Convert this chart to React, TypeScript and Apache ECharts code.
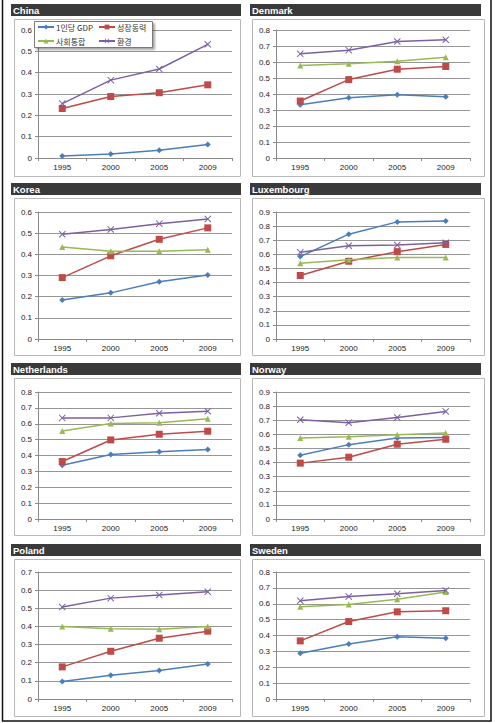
import React, { useEffect, useRef } from 'react';
import * as echarts from 'echarts';

const years = ['1995', '2000', '2005', '2009'];
const seriesNames = ['1인당 GDP', '성장동력', '사회통합', '환경'];
const countries = ['China', 'Denmark', 'Korea', 'Luxembourg', 'Netherlands', 'Norway', 'Poland', 'Sweden'];
const yMax = [0.6, 0.8, 0.6, 0.9, 0.8, 0.9, 0.7, 0.8];

// values per country, in the order of `countries`
const gdpValues = [
  [0.009, 0.019, 0.036, 0.063],
  [0.333, 0.377, 0.396, 0.383],
  [0.184, 0.218, 0.27, 0.302],
  [0.584, 0.743, 0.83, 0.837],
  [0.339, 0.406, 0.423, 0.438],
  [0.452, 0.527, 0.574, 0.577],
  [0.096, 0.131, 0.157, 0.193],
  [0.288, 0.347, 0.392, 0.383],
];
const growthValues = [
  [0.232, 0.288, 0.306, 0.343],
  [0.356, 0.49, 0.555, 0.572],
  [0.29, 0.393, 0.471, 0.525],
  [0.45, 0.551, 0.619, 0.67],
  [0.362, 0.498, 0.534, 0.553],
  [0.396, 0.438, 0.53, 0.565],
  [0.177, 0.263, 0.335, 0.374],
  [0.366, 0.488, 0.549, 0.556],
];
const socialValues = [
  [null, null, null, null],
  [0.578, 0.589, 0.605, 0.63],
  [0.435, 0.415, 0.415, 0.422],
  [0.537, 0.562, 0.577, 0.577],
  [0.555, 0.601, 0.607, 0.632],
  [0.574, 0.583, 0.597, 0.609],
  [0.4, 0.387, 0.385, 0.4],
  [0.581, 0.596, 0.629, 0.674],
];
const envValues = [
  [0.255, 0.365, 0.417, 0.533],
  [0.651, 0.674, 0.728, 0.739],
  [0.495, 0.517, 0.545, 0.567],
  [0.614, 0.661, 0.666, 0.682],
  [0.637, 0.637, 0.666, 0.679],
  [0.703, 0.682, 0.719, 0.762],
  [0.507, 0.556, 0.573, 0.591],
  [0.619, 0.646, 0.663, 0.684],
];

const COLORS = ['#4a7ebb', '#be4b48', '#98b954', '#7d60a0'];
const X_SYMBOL = 'path://M0,1L1,0L5,4L9,0L10,1L6,5L10,9L9,10L5,6L1,10L0,9L4,5Z';
const SYMBOLS = ['diamond', 'rect', 'triangle', X_SYMBOL];
const SYMBOL_SIZES = [6, 7, 6, 7];

const rowTitleTop = [4, 183, 363, 544];
const plotTop = [30, 212, 392, 572];
const plotBottom = [158, 339, 519, 699];
const colPlotLeft = [38, 276];
const colPlotWidth = [194, 194];
const colBarLeft = [11, 250];
const colBarRight = [241, 481];
const colBoxLeft = [14, 252];
const colBoxRight = [240, 484];

const FONT = '"Liberation Sans", Arial, sans-serif';
const CJK = '"Noto Sans CJK KR", sans-serif';

export default function App() {
  const ref = useRef<HTMLDivElement>(null);
  useEffect(() => {
    if (!ref.current) return;
    const chart = echarts.init(ref.current, undefined, { renderer: 'svg' });
    const allValues = [gdpValues, growthValues, socialValues, envValues];

    const grids: any[] = [];
    const xAxes: any[] = [];
    const yAxes: any[] = [];
    const series: any[] = [];
    const graphics: any[] = [];

    // outer frame
    graphics.push({
      type: 'rect',
      shape: { x: 2.5, y: -2, width: 488.5, height: 723 },
      style: { fill: 'none', stroke: '#111', lineWidth: 1.5 },
      silent: true,
      z: 0,
    });

    countries.forEach((name, i) => {
      const col = i % 2;
      const row = Math.floor(i / 2);
      const t = rowTitleTop[row];
      grids.push({
        left: colPlotLeft[col],
        width: colPlotWidth[col],
        top: plotTop[row],
        height: plotBottom[row] - plotTop[row],
        containLabel: false,
      });
      xAxes.push({
        type: 'category',
        gridIndex: i,
        data: years,
        boundaryGap: true,
        axisLine: { show: true, lineStyle: { color: '#8a8a8a', width: 1 } },
        axisTick: { show: true, length: 3, lineStyle: { color: '#8a8a8a' } },
        axisLabel: { fontSize: 8, color: '#222', margin: 5, fontFamily: FONT },
        splitLine: { show: false },
      });
      yAxes.push({
        type: 'value',
        gridIndex: i,
        min: 0,
        max: yMax[i],
        interval: 0.1,
        axisLine: { show: true, lineStyle: { color: '#8a8a8a', width: 1 } },
        axisTick: { show: true, length: 3, lineStyle: { color: '#8a8a8a' } },
        axisLabel: {
          fontSize: 8,
          color: '#222',
          margin: 6,
          fontFamily: FONT,
          formatter: (v: number) => (v === 0 ? '0' : v.toFixed(1)),
        },
        splitLine: { show: true, lineStyle: { color: '#969696', width: 1 } },
      });
      seriesNames.forEach((sn, k) => {
        series.push({
          type: 'line',
          name: sn,
          xAxisIndex: i,
          yAxisIndex: i,
          data: allValues[k][i],
          symbol: SYMBOLS[k],
          symbolSize: SYMBOL_SIZES[k],
          showSymbol: true,
          lineStyle: { color: COLORS[k], width: 1.5 },
          itemStyle: { color: COLORS[k] },
          z: 2 + k,
        });
      });
      // panel box
      graphics.push({
        type: 'rect',
        shape: { x: colBoxLeft[col] + 0.5, y: t + 15.5, width: colBoxRight[col] - colBoxLeft[col], height: 157 },
        style: { fill: 'none', stroke: '#b8b8b8', lineWidth: 1 },
        silent: true,
        z: 0,
      });
      // title bar
      graphics.push({
        type: 'rect',
        shape: { x: colBarLeft[col], y: t, width: colBarRight[col] - colBarLeft[col], height: 12 },
        style: { fill: '#3a3a3a' },
        silent: true,
        z: 1,
      });
      graphics.push({
        type: 'text',
        x: colBarLeft[col] + 2,
        y: t + 6.5,
        style: {
          text: name,
          fill: '#ffffff',
          font: `bold 9.5px ${FONT}`,
          verticalAlign: 'middle',
          align: 'left',
        },
        silent: true,
        z: 2,
      });
    });

    // legend box (China panel)
    graphics.push({
      type: 'rect',
      shape: { x: 34.5, y: 21.5, width: 118, height: 26 },
      style: {
        fill: '#ffffff',
        stroke: '#7a7a7a',
        lineWidth: 1,
        shadowBlur: 2,
        shadowOffsetX: 2,
        shadowOffsetY: 2,
        shadowColor: 'rgba(0,0,0,0.35)',
      },
      silent: true,
      z: 10,
    });

    const legendCommon = {
      orient: 'vertical',
      top: 22,
      itemGap: 4,
      itemWidth: 16,
      itemHeight: 6,
      padding: 0,
      z: 20,
      textStyle: { fontSize: 8, color: '#333', fontFamily: CJK, lineHeight: 10, padding: [0, 0, 0, -3] },
      selectedMode: false,
    };

    chart.setOption({
      animation: false,
      backgroundColor: '#ffffff',
      grid: grids,
      xAxis: xAxes,
      yAxis: yAxes,
      series,
      legend: [
        { ...legendCommon, left: 37, data: [seriesNames[0], seriesNames[2]] },
        { ...legendCommon, left: 98, data: [seriesNames[1], seriesNames[3]] },
      ],
      graphic: graphics,
    });
    return () => chart.dispose();
  }, []);
  return (
    <div
      ref={ref}
      style={{ position: 'absolute', left: 0, top: 0, width: 495, height: 723, background: '#fff' }}
    />
  );
}
